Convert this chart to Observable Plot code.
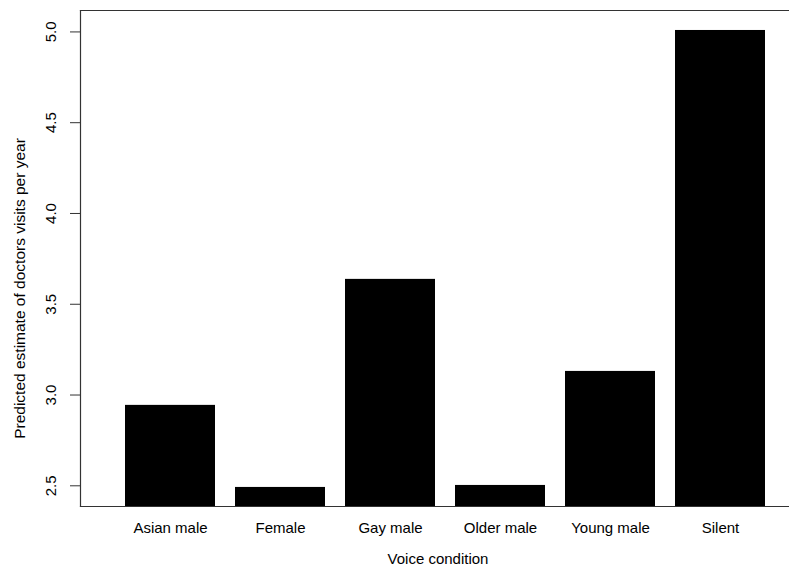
<!DOCTYPE html>
<html>
<head>
<meta charset="utf-8">
<script src="https://cdn.jsdelivr.net/npm/d3@7"></script>
<script src="https://cdn.jsdelivr.net/npm/@observablehq/plot@0.6"></script>
<style>
  body { margin: 0; background: #fff; }
  #chart svg { display: block; }
</style>
</head>
<body>
<div id="chart"></div>
<script>
const categories = ["Asian male", "Female", "Gay male", "Older male", "Young male", "Silent"];
const values = [2.943, 2.491, 3.637, 2.502, 3.130, 5.008];
const yTicks = [2.5, 3.0, 3.5, 4.0, 4.5, 5.0];
const xLabel = "Voice condition";
const yLabel = "Predicted estimate of doctors visits per year";

const data = categories.map((c, i) => ({category: c, value: values[i]}));
const font = "'Liberation Sans', Arial, Helvetica, sans-serif";
const lineColor = "#333";

const chart = Plot.plot({
  width: 789,
  height: 571,
  marginLeft: 80,
  marginTop: 10,
  marginRight: 0,
  marginBottom: 65,
  style: {fontFamily: font, fontSize: "15px", background: "#fff", color: "#000"},
  x: {type: "band", domain: categories, range: [124, 766.2], paddingInner: 0.178, paddingOuter: 0, axis: null},
  y: {domain: [2.386, 5.118], axis: null},
  marks: [
    Plot.barY(data, {x: "category", y: "value", fill: "#000", clip: true}),
    Plot.frame({anchor: "top", stroke: lineColor, strokeWidth: 1.2}),
    Plot.frame({anchor: "bottom", stroke: lineColor, strokeWidth: 1.2}),
    Plot.frame({anchor: "left", stroke: lineColor, strokeWidth: 1.2}),
    Plot.axisY({ticks: yTicks, tickSize: 10, tickFormat: () => "", stroke: lineColor, label: null}),
    Plot.text(yTicks, {y: d => d, text: d => d.toFixed(1), frameAnchor: "left", dx: -29, rotate: -90, textAnchor: "middle", fontSize: 15, fill: "#000"}),
    Plot.text(categories, {x: d => d, text: d => d, frameAnchor: "bottom", dy: 26, textAnchor: "middle", fontSize: 15, fill: "#000"}),
    Plot.text([xLabel], {text: d => d, frameAnchor: "bottom", dx: 3, dy: 57, textAnchor: "middle", fontSize: 15, fill: "#000"}),
    Plot.text([yLabel], {text: d => d, frameAnchor: "left", dx: -60, dy: 30, rotate: -90, textAnchor: "middle", fontSize: 15.5, fill: "#000"})
  ]
});
document.getElementById("chart").appendChild(chart);
</script>
</body>
</html>
